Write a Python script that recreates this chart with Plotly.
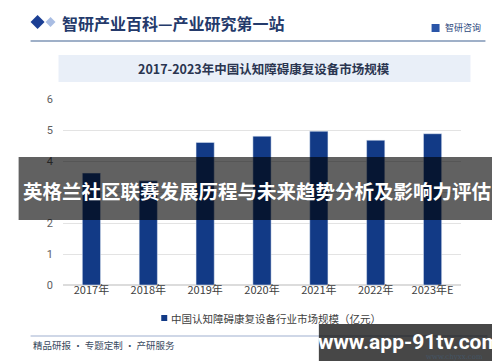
import plotly.graph_objects as go

categories = ["2017年", "2018年", "2019年", "2020年", "2021年", "2022年", "2023年E"]
market_size = [3.61, 3.36, 4.60, 4.80, 4.96, 4.67, 4.88]
y_ticks = [0, 1, 2, 3, 4, 5, 6]

series_name = "中国认知障碍康复设备行业市场规模（亿元）"
chart_title = "2017-2023年中国认知障碍康复设备市场规模"
header_text = "智研产业百科—产业研究第一站"
overlay_text = "英格兰社区联赛发展历程与未来趋势分析及影响力评估"
watermark_text = "www.app-91tv.com"

W, H = 500, 362
L, R, T, B = 54.5, 453.5, 91, 277

def px(x):
    return (x - L) / (R - L)

def py(y):
    return (B - y) / (B - T)

CJK = "Noto Sans CJK SC"
BAR = "#123a86"

fig = go.Figure()
fig.add_trace(go.Bar(
    x=categories, y=market_size, name=series_name,
    marker=dict(color=BAR), width=0.32, showlegend=False,
))

shapes = []
annotations = []

# header line
shapes.append(dict(type="line", xref="paper", yref="paper", x0=px(22), x1=px(478), y0=py(33), y1=py(33),
                   line=dict(color="#9fb0c8", width=2), layer="above"))
# header diamonds
shapes.append(dict(type="path", xref="paper", yref="paper",
                   path=f"M {px(22)} {py(14)} L {px(29)} {py(7)} L {px(36)} {py(14)} L {px(29)} {py(21)} Z",
                   fillcolor="#1b3f94", line=dict(width=0)))
shapes.append(dict(type="path", xref="paper", yref="paper",
                   path=f"M {px(37)} {py(14)} L {px(42)} {py(9)} L {px(47)} {py(14)} L {px(42)} {py(19)} Z",
                   fillcolor="#a9bde3", line=dict(width=0)))
annotations.append(dict(text=f"<b>{header_text}</b>", xref="paper", yref="paper", x=px(51), y=py(15),
                        xanchor="left", yanchor="middle", showarrow=False,
                        font=dict(family=CJK, size=16, color="#243a6b")))
# logo
shapes.append(dict(type="rect", xref="paper", yref="paper", x0=px(424), x1=px(432), y0=py(24), y1=py(16),
                   fillcolor="#2a55a8", line=dict(width=0)))
annotations.append(dict(text="智研咨询", xref="paper", yref="paper", x=px(435), y=py(20),
                        xanchor="left", yanchor="middle", showarrow=False,
                        font=dict(family=CJK, size=9, color="#2f4a80")))

# title band
shapes.append(dict(type="rect", xref="paper", yref="paper", x0=px(50), x1=px(463), y0=py(74), y1=py(47),
                   fillcolor="#e9eff8", line=dict(width=0), layer="below"))
annotations.append(dict(text=f"<b>{chart_title}</b>", xref="paper", yref="paper", x=px(256), y=py(61),
                        xanchor="center", yanchor="middle", showarrow=False,
                        font=dict(family=CJK, size=12.5, color="#2a3550")))

# legend (drawn manually, small square)
shapes.append(dict(type="rect", xref="paper", yref="paper", x0=px(153), x1=px(159), y0=py(313), y1=py(307),
                   fillcolor=BAR, line=dict(width=0)))
annotations.append(dict(text=series_name, xref="paper", yref="paper", x=px(161), y=py(310),
                        xanchor="left", yanchor="middle", showarrow=False,
                        font=dict(family=CJK, size=10.5, color="#404040")))

# overlay band
shapes.append(dict(type="rect", xref="paper", yref="paper", x0=px(10), x1=px(488), y0=py(212), y1=py(149),
                   fillcolor="rgba(0,0,0,0.62)", line=dict(width=0), layer="above"))
shapes.append(dict(type="rect", xref="paper", yref="paper", x0=px(488), x1=px(491), y0=py(212), y1=py(149),
                   fillcolor="#000000", line=dict(width=0), layer="above"))
annotations.append(dict(text=f"<b>{overlay_text}</b>", xref="paper", yref="paper", x=px(249), y=py(182),
                        xanchor="center", yanchor="middle", showarrow=False,
                        font=dict(family=CJK, size=19.5, color="#ffffff")))

# bottom line and footer
shapes.append(dict(type="line", xref="paper", yref="paper", x0=px(22), x1=px(480), y0=py(328), y1=py(328),
                   line=dict(color="#9fb0d0", width=1.2)))
annotations.append(dict(text="精品研报 · 专题定制 · 产研服务", xref="paper", yref="paper", x=px(22), y=py(337),
                        xanchor="left", yanchor="middle", showarrow=False,
                        font=dict(family=CJK, size=9.5, color="#3a4a60")))
annotations.append(dict(text="www.chyxx.com", xref="paper", yref="paper", x=px(478), y=py(349),
                        xanchor="right", yanchor="middle", showarrow=False,
                        font=dict(family="DejaVu Serif", size=7, color="#445566")))

# watermark band
shapes.append(dict(type="rect", xref="paper", yref="paper", x0=px(311), x1=px(490), y0=py(353), y1=py(316),
                   fillcolor="rgba(0,0,0,0.72)", line=dict(width=0), layer="above"))
shapes.append(dict(type="rect", xref="paper", yref="paper", x0=px(490), x1=px(493), y0=py(353), y1=py(316),
                   fillcolor="#000000", line=dict(width=0), layer="above"))
annotations.append(dict(text=f"<b>{watermark_text}</b>", xref="paper", yref="paper", x=px(401), y=py(334),
                        xanchor="center", yanchor="middle", showarrow=False,
                        font=dict(family="Roboto", size=21, color="#ffffff")))

fig.update_layout(
    width=W, height=H,
    margin=dict(l=L, r=W - R, t=T, b=H - B, autoexpand=False, pad=0),
    paper_bgcolor="#ffffff", plot_bgcolor="#ffffff",
    shapes=shapes, annotations=annotations,
    showlegend=False,
    xaxis=dict(tickfont=dict(family=CJK, size=11, color="#404040"), showgrid=False,
               showline=False, ticks="", ticklabelstandoff=-3),
    yaxis=dict(range=[0, 6], tickvals=y_ticks, tickfont=dict(family="Roboto", size=11, color="#606060"),
               showgrid=True, gridcolor="#e3e3e3", gridwidth=1, zeroline=True, zerolinecolor="#dcdcdc",
               ticks="", ticklabelstandoff=9),
)

fig.write_html("out.html")
